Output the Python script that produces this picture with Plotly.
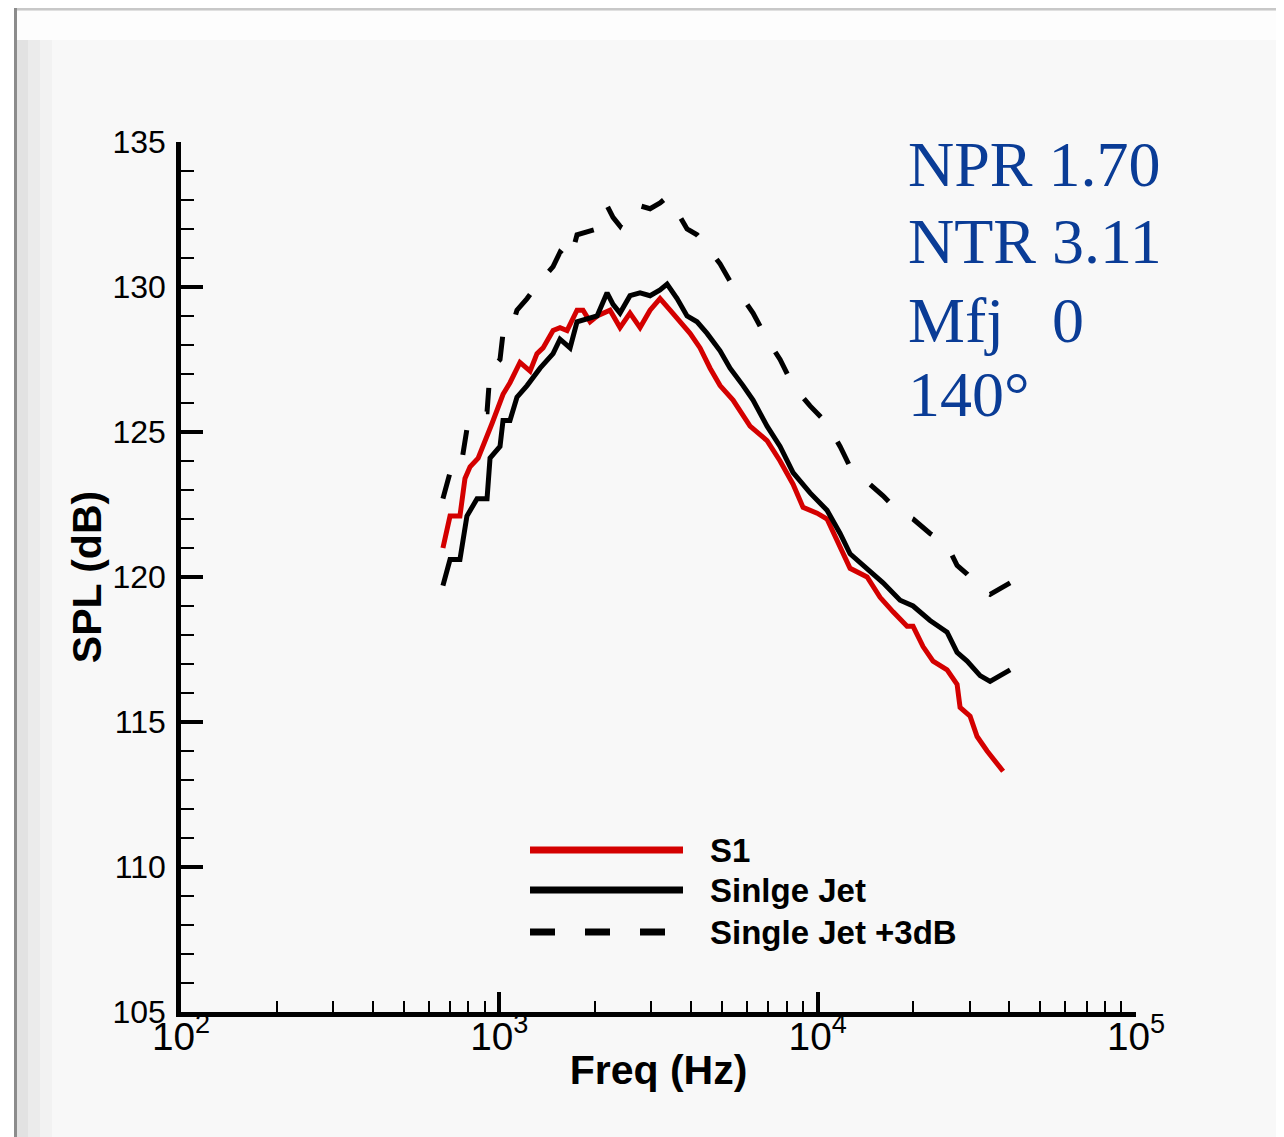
import plotly.graph_objects as go

# ---------------- data ----------------
s1_freq = [665, 700, 752, 780, 809, 858, 949, 1027, 1080, 1161,
           1249, 1313, 1372, 1475, 1551, 1632, 1754, 1832, 1928, 2028,
           2227, 2394, 2573, 2767, 2975, 3198, 3439, 3696, 3973, 4271,
           4592, 4936, 5422, 6132, 6935, 7619, 8370, 8997, 9957, 10702,
           11762, 12640, 14297, 15705, 17254, 19093, 19939, 21431, 23040, 25500,
           27415, 28016, 30116, 31681, 34058, 36613, 38240]
s1_spl = [121.0, 122.1, 122.1, 123.4, 123.8, 124.1, 125.3, 126.3, 126.7, 127.4,
          127.1, 127.7, 127.9, 128.5, 128.6, 128.5, 129.2, 129.2, 128.8, 129.0,
          129.2, 128.6, 129.1, 128.6, 129.2, 129.6, 129.2, 128.8, 128.4, 127.9,
          127.2, 126.6, 126.1, 125.2, 124.7, 124.0, 123.2, 122.4, 122.2, 122.0,
          121.0, 120.3, 120.0, 119.3, 118.8, 118.3, 118.3, 117.6, 117.1, 116.8,
          116.3, 115.5, 115.2, 114.5, 114.0, 113.6, 113.3]

sj_freq = [665, 700, 752, 791, 851, 915, 935, 1005, 1027, 1080,
           1136, 1222, 1343, 1475, 1551, 1668, 1754, 1886, 2028, 2180,
           2276, 2394, 2573, 2767, 2975, 3198, 3365, 3617, 3888, 4179,
           4493, 4936, 5306, 5829, 6266, 6935, 7619, 8370, 9465, 10702,
           11762, 12640, 14297, 16050, 18150, 19939, 22545, 25500, 27415, 29471,
           32375, 34804, 37420, 40230]
sj_spl = [119.7, 120.6, 120.6, 122.1, 122.7, 122.7, 124.1, 124.5, 125.4, 125.4,
          126.2, 126.6, 127.2, 127.7, 128.2, 127.9, 128.8, 128.9, 129.0, 129.8,
          129.4, 129.1, 129.7, 129.8, 129.7, 129.9, 130.1, 129.6, 129.0, 128.8,
          128.4, 127.8, 127.2, 126.6, 126.1, 125.2, 124.5, 123.6, 122.9, 122.3,
          121.5, 120.8, 120.3, 119.8, 119.2, 119.0, 118.5, 118.1, 117.4, 117.1,
          116.6, 116.4, 116.6, 116.8]

# "Single Jet +3dB" is the single-jet spectrum raised by 3 dB (as its label states)
sj3_spl = [v + 3.0 for v in sj_spl]

legend_names = ["S1", "Sinlge Jet", "Single Jet +3dB"]
info_lines = ["NPR 1.70", "NTR 3.11", "Mfj\u00a0\u00a0\u00a00", "140°"]

# ---------------- layout geometry (page pixels; the page body has an 8px margin) ----------------
OFF = 8
PAGE_W, PAGE_H = 1284, 1137
W, H = PAGE_W - OFF, PAGE_H - OFF
L, R, T, B = 181, 1136, 142, 1012   # plot area in page pixels


def px(xp):
    return (xp - L) / (R - L)


def py(yp):
    return (B - yp) / (B - T)


fig = go.Figure()

fig.add_trace(go.Scatter(x=s1_freq, y=s1_spl, mode="lines", name=legend_names[0],
                         line=dict(color="#d40000", width=5), showlegend=False))
fig.add_trace(go.Scatter(x=sj_freq, y=sj_spl, mode="lines", name=legend_names[1],
                         line=dict(color="black", width=5), showlegend=False))
fig.add_trace(go.Scatter(x=sj_freq, y=sj3_spl, mode="lines", name=legend_names[2],
                         line=dict(color="black", width=5, dash="25px,30px"),
                         showlegend=False))

shapes = []
# page frame / bevel
shapes.append(dict(type="line", xref="paper", yref="paper", x0=px(OFF), x1=px(PAGE_W), y0=py(OFF + 1), y1=py(OFF + 1),
                   line=dict(color="#c8c8c8", width=3), layer="below"))
shapes.append(dict(type="rect", xref="paper", yref="paper", x0=px(OFF), x1=px(14), y0=py(OFF), y1=py(PAGE_H),
                   fillcolor="white", line_width=0, layer="below"))
shapes.append(dict(type="line", xref="paper", yref="paper", x0=px(15.5), x1=px(15.5), y0=py(OFF), y1=py(PAGE_H),
                   line=dict(color="#8c8c8c", width=3), layer="below"))
for (a, b, c) in [(17, 28, "#e2e2e2"), (28, 40, "#ebebeb"), (40, 52, "#f2f2f2")]:
    shapes.append(dict(type="rect", xref="paper", yref="paper", x0=px(a), x1=px(b), y0=py(11), y1=py(PAGE_H),
                       fillcolor=c, line_width=0, layer="below"))
shapes.append(dict(type="rect", xref="paper", yref="paper", x0=px(17), x1=px(PAGE_W), y0=py(11), y1=py(40),
                   fillcolor="#fdfdfd", line_width=0, layer="below"))

# custom legend
leg_y = [850, 890, 932]
shapes.append(dict(type="line", xref="paper", yref="paper", x0=px(530), x1=px(683),
                   y0=py(leg_y[0]), y1=py(leg_y[0]), line=dict(color="#d40000", width=7)))
shapes.append(dict(type="line", xref="paper", yref="paper", x0=px(530), x1=px(683),
                   y0=py(leg_y[1]), y1=py(leg_y[1]), line=dict(color="black", width=7)))
shapes.append(dict(type="line", xref="paper", yref="paper", x0=px(530), x1=px(667),
                   y0=py(leg_y[2]), y1=py(leg_y[2]), line=dict(color="black", width=7, dash="25px,30px")))

annotations = []
for name, yy in zip(legend_names, leg_y):
    annotations.append(dict(text="<b>%s</b>" % name, xref="paper", yref="paper", x=px(708), y=py(yy),
                            xanchor="left", yanchor="middle", showarrow=False,
                            font=dict(family="Liberation Sans, Arial", size=33, color="black")))

for txt, yy in zip(info_lines, [165, 242, 320, 394]):
    annotations.append(dict(text=txt, xref="paper", yref="paper", x=px(906), y=py(yy),
                            xanchor="left", yanchor="middle", showarrow=False,
                            font=dict(family="Liberation Serif, Times New Roman", size=64, color="#0a3c96")))

fig.update_layout(
    width=W, height=H,
    margin=dict(l=L - OFF, r=PAGE_W - R, t=T - OFF, b=PAGE_H - B),
    paper_bgcolor="#f8f8f8", plot_bgcolor="rgba(0,0,0,0)",
    shapes=shapes, annotations=annotations,
    showlegend=False,
    font=dict(family="Liberation Sans, Arial", color="black"),
)

fig.update_xaxes(
    type="log", range=[2, 5], dtick=1, exponentformat="power", showexponent="all",
    showline=True, linecolor="black", linewidth=4.5, showgrid=False, zeroline=False,
    ticks="inside", ticklen=20, tickwidth=3.5, tickcolor="black",
    tickfont=dict(size=31, family="Liberation Sans, Arial"), ticklabelstandoff=-12,
    minor=dict(ticks="inside", ticklen=11, tickwidth=1.8, tickcolor="black", dtick="D1", showgrid=False),
    title=dict(text="<b>Freq (Hz)</b>", font=dict(size=41, family="Liberation Sans, Arial"), standoff=0),
)
fig.update_yaxes(
    range=[105, 135], dtick=5,
    showline=True, linecolor="black", linewidth=4.5, showgrid=False, zeroline=False,
    ticks="inside", ticklen=22, tickwidth=4, tickcolor="black",
    tickfont=dict(size=32, family="Liberation Sans, Arial"), ticklabelstandoff=4,
    minor=dict(ticks="inside", ticklen=13, tickwidth=2, tickcolor="black", dtick=1, showgrid=False),
    title=dict(text="<b>SPL (dB)</b>", font=dict(size=41, family="Liberation Sans, Arial"), standoff=0),
)

fig.write_html("out.html")
